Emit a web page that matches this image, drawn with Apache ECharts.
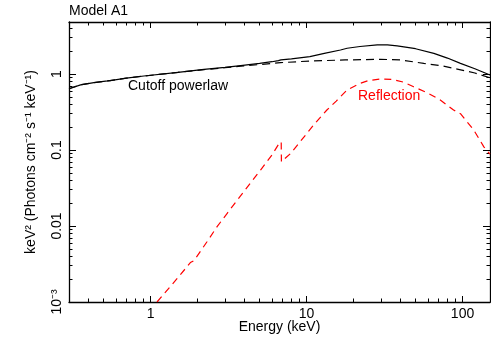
<!DOCTYPE html>
<html>
<head>
<meta charset="utf-8">
<script src="https://cdn.jsdelivr.net/npm/echarts@6/dist/echarts.min.js"></script>
<style>
  html, body { margin: 0; padding: 0; background: #fff; }
  #chart { width: 491px; height: 337px; }
</style>
</head>
<body>
<div id="chart"></div>
<script>
// 总谱 (实线)
const energyTotal = [0.3, 0.356, 0.433, 0.53, 0.54, 0.55, 0.7, 0.906, 1.5, 2.2, 3.0, 3.78, 5, 6.0, 6.6, 6.85, 6.95, 8, 10.5, 13, 16.5, 18.2, 22, 28.4, 33, 38.1, 50, 65.5, 80, 97, 120, 150];
const fluxTotal = [0.64, 0.72, 0.77, 0.81, 0.795, 0.82, 0.88, 0.94, 1.05, 1.15, 1.22, 1.29, 1.38, 1.45, 1.50, 1.53, 1.50, 1.58, 1.69, 1.87, 2.07, 2.18, 2.30, 2.41, 2.41, 2.34, 2.15, 1.87, 1.62, 1.38, 1.17, 0.97];
// Cutoff powerlaw (黑色虚线)
const energyCutoff = [0.3, 0.356, 0.433, 0.53, 0.54, 0.55, 0.7, 0.906, 1.5, 2.2, 3.0, 3.78, 5, 6.8, 10.5, 17.7, 29.8, 40, 56.5, 75, 92.5, 120, 150];
const fluxCutoff = [0.64, 0.72, 0.77, 0.81, 0.795, 0.82, 0.88, 0.94, 1.05, 1.14, 1.21, 1.27, 1.33, 1.41, 1.48, 1.53, 1.56, 1.53, 1.38, 1.27, 1.16, 1.03, 0.89];
// Reflection (红色虚线)
const energyRefl = [1.1, 1.5, 1.8, 1.9, 2.3, 2.67, 3.1, 4.0, 5.07, 6.0, 6.6, 6.88, 6.9, 7.15, 7.9, 9, 11.1, 13.5, 15.5, 18.2, 22, 25, 29.8, 35, 42, 48.6, 60, 72, 87.6, 97, 118, 137, 150];
const fluxRefl = [0.001, 0.0021, 0.0033, 0.0035, 0.0062, 0.0098, 0.0147, 0.029, 0.0545, 0.086, 0.118, 0.128, 0.07, 0.075, 0.09, 0.125, 0.213, 0.336, 0.44, 0.616, 0.75, 0.82, 0.86, 0.85, 0.78, 0.68, 0.56, 0.455, 0.336, 0.30, 0.183, 0.11, 0.088];

// 刻度标签
const xTickValues = [1, 10, 100];
const xTickLabels = ['1', '10', '100'];
const yTickValues = [0.001, 0.01, 0.1, 1];
const yTickLabels = ['10\u207B\u00B3', '0.01', '0.1', '1'];

const font = 'Liberation Sans, Arial, sans-serif';
const zip = (xs, ys) => xs.map((x, i) => [x, ys[i]]);

// 只画轴线和刻度 (标签另外用 graphic 画)
function frameAxis(dim, pos, len) {
    return {
        type: 'log',
        position: pos,
        min: dim === 'x' ? 0.3 : 0.001,
        max: dim === 'x' ? 150 : 4.83,
        axisLine: { show: true, onZero: false, lineStyle: { color: '#000', width: 1.3 } },
        axisTick: { show: true, inside: true, length: len, lineStyle: { color: '#000', width: 1 } },
        minorTick: { show: true, splitNumber: 9, length: 3.5, lineStyle: { color: '#000', width: 1 } },
        axisLabel: { show: false },
        splitLine: { show: false },
        minorSplitLine: { show: false }
    };
}

let myChart = echarts.init(document.getElementById('chart'));
myChart.setOption({
    animation: false,
    grid: { left: 69, right: 1, top: 22, bottom: 35 },
    xAxis: [frameAxis('x', 'bottom', 6), frameAxis('x', 'top', 6)],
    yAxis: [frameAxis('y', 'left', 7), frameAxis('y', 'right', 7)],
    series: [
        {
            name: 'Total', type: 'line', showSymbol: false, symbol: 'none',
            xAxisIndex: 0, yAxisIndex: 0,
            data: zip(energyTotal, fluxTotal),
            lineStyle: { color: '#000', width: 1.2 }
        },
        {
            name: 'Cutoff powerlaw', type: 'line', showSymbol: false, symbol: 'none',
            xAxisIndex: 0, yAxisIndex: 0,
            data: zip(energyCutoff, fluxCutoff),
            lineStyle: { color: '#000', width: 1.2, type: [8, 5] }
        },
        {
            name: 'Reflection', type: 'line', showSymbol: false, symbol: 'none',
            xAxisIndex: 0, yAxisIndex: 0,
            data: zip(energyRefl, fluxRefl),
            lineStyle: { color: '#ff0000', width: 1.2, type: [7, 5] }
        }
    ]
});

// 文字: 刻度标签位置由坐标轴换算
const txt = (text, x, y, extra) => Object.assign({
    type: 'text', x: x, y: y, silent: true,
    style: { text: text, fill: '#000', font: '14px ' + font, align: 'center', verticalAlign: 'middle' }
}, extra || {});
const texts = [];
xTickValues.forEach((v, i) => {
    texts.push(txt(xTickLabels[i], myChart.convertToPixel({ xAxisIndex: 0 }, v), 314));
});
yTickValues.forEach((v, i) => {
    texts.push(txt(yTickLabels[i], 57, myChart.convertToPixel({ yAxisIndex: 0 }, v), { rotation: Math.PI / 2 }));
});
texts.push(txt('Energy (keV)', 279.5, 327));
texts.push(txt('keV\u00B2 (Photons cm\u207B\u00B2 s\u207B\u00B9 keV\u207B\u00B9)', 31, 162, { rotation: Math.PI / 2 }));
texts.push(txt('Model A1', 69, 11, { style: { text: 'Model A1', fill: '#000', font: '14px ' + font, align: 'left', verticalAlign: 'middle' } }));
texts.push(txt('Cutoff powerlaw', 128, 86.5, { style: { text: 'Cutoff powerlaw', fill: '#000', font: '14px ' + font, align: 'left', verticalAlign: 'middle' } }));
texts.push(txt('Reflection', 358, 96.5, { style: { text: 'Reflection', fill: '#ff0000', font: '14px ' + font, align: 'left', verticalAlign: 'middle' } }));
myChart.setOption({ graphic: texts });
</script>
</body>
</html>
